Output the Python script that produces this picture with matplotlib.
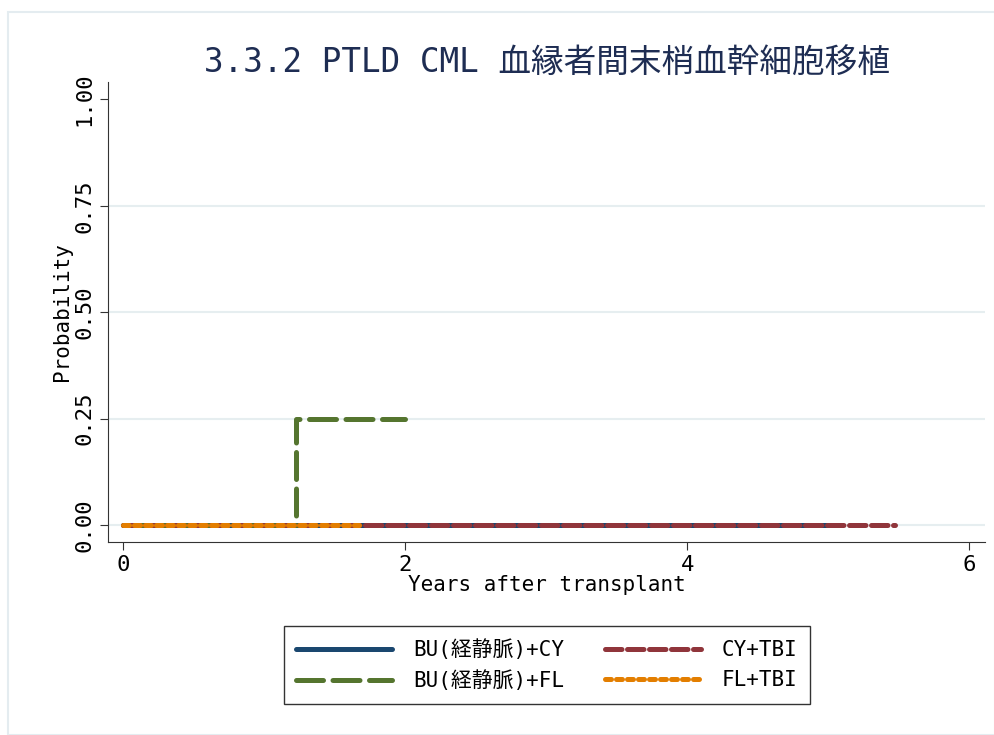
import matplotlib
matplotlib.use("Agg")
import matplotlib.pyplot as plt
from matplotlib.patches import Rectangle

plt.rcParams['font.family'] = ['DejaVu Sans Mono', 'Noto Sans CJK JP']

title = "3.3.2 PTLD CML 血縁者間末梢血幹細胞移植"
xlabel = "Years after transplant"
ylabel = "Probability"

labels = ["BU(経静脈)+CY", "BU(経静脈)+FL", "CY+TBI", "FL+TBI"]
colors = ["#1a476f", "#55752f", "#90353b", "#e37e00"]

bucy_t = [0.0, 5.03]
bucy_p = [0.0, 0.0]
bufl_t = [0.0, 1.23, 2.0]
bufl_p = [0.0, 0.25, 0.25]
cytbi_t = [0.0, 5.47]
cytbi_p = [0.0, 0.0]
fltbi_t = [0.0, 1.67]
fltbi_p = [0.0, 0.0]

xticks = [0, 2, 4, 6]
yticks = [0.0, 0.25, 0.5, 0.75, 1.0]
yticklabels = ["0.00", "0.25", "0.50", "0.75", "1.00"]

fig = plt.figure(figsize=(9.95, 7.35), dpi=100)
fig.patches.append(Rectangle((8/995, 0.0), 1 - 8/995, 1 - 12/735, transform=fig.transFigure,
                             fill=False, edgecolor="#e4ecf0", linewidth=1.5))
ax = fig.add_axes([108/995, 1 - 542/735, (985 - 108)/995, (542 - 82)/735])

for yv in yticks[:-1]:
    ax.axhline(yv, color="#e6eef0", linewidth=1.5, zorder=0)

lw = 3.6
series = [
    (bucy_t, bucy_p, colors[0], (0, ())),
    (bufl_t, bufl_p, colors[1], (0, (5.4, 1.9))),
    (cytbi_t, cytbi_p, colors[2], (0, (3.3, 1.1))),
    (fltbi_t, fltbi_p, colors[3], (0, (1.2, 1.0))),
]
handles = []
for (t, p, c, ls), lab in zip(series, labels):
    h, = ax.step(t, p, where="post", color=c, linewidth=lw, linestyle=ls,
                 dash_capstyle="round", solid_capstyle="round", label=lab)
    handles.append(h)

ax.set_xlim(-0.106, 6.11)
ax.set_ylim(-0.04, 1.041)
ax.set_xticks(xticks)
ax.set_xticklabels([str(x) for x in xticks], fontsize=16)
ax.set_yticks(yticks)
ax.set_yticklabels(yticklabels, fontsize=16, rotation=90, va="center")
ax.spines["top"].set_visible(False)
ax.spines["right"].set_visible(False)
ax.spines["left"].set_color("#333333")
ax.spines["bottom"].set_color("#333333")
ax.tick_params(direction="out", length=6, color="#333333")
ax.set_xlabel(xlabel, fontsize=15, labelpad=0)
ax.set_ylabel(ylabel, fontsize=15, labelpad=2)

fig.text(547/995, 1 - 62/735, title, ha="center", va="center", fontsize=23.5, color="#1e2d53")

leg = fig.legend(handles=handles, labels=labels, ncol=2, loc="center",
                 bbox_to_anchor=(547/995, 1 - 665/735), fontsize=15,
                 frameon=True, fancybox=False, edgecolor="black", handlelength=4.6,
                 columnspacing=2.0, borderpad=0.6, handletextpad=1.0)
leg.get_frame().set_linewidth(1.0)

fig.savefig("out.png", dpi=100)
